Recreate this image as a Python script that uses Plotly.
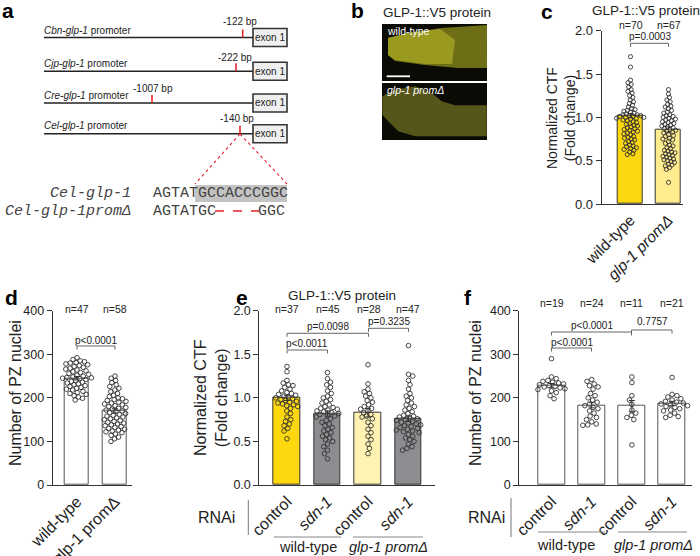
import math
import plotly.graph_objects as go

# ---------------- data ----------------
c_groups = ["wild-type", "<i>glp-1 promΔ</i>"]
c_means = [1.02, 0.86]
c_sem = [0.025, 0.03]
c_n = ["n=70", "n=67"]
c_wt = [1.70, 1.58, 1.43, 1.40, 1.38, 1.35, 1.32, 1.30, 1.28, 1.25, 1.23, 1.20, 1.18, 1.16, 1.14,
        1.12, 1.10, 1.09, 1.08, 1.07, 1.06, 1.05, 1.04, 1.03, 1.03, 1.02, 1.02, 1.01, 1.01, 1.00,
        1.00, 0.99, 0.99, 0.98, 0.97, 0.96, 0.95, 0.94, 0.93, 0.92, 0.91, 0.90, 0.89, 0.88, 0.87,
        0.86, 0.85, 0.84, 0.83, 0.82, 0.81, 0.80, 0.78, 0.77, 0.76, 0.75, 0.74, 0.72, 0.71, 0.70,
        0.68, 0.67, 0.66, 0.65, 0.64, 0.63, 0.62, 0.60, 0.58, 0.57]
c_prom = [1.32, 1.27, 1.23, 1.20, 1.18, 1.15, 1.13, 1.12, 1.10, 1.08, 1.06, 1.05, 1.03, 1.02, 1.01,
          1.00, 0.99, 0.98, 0.97, 0.96, 0.95, 0.94, 0.93, 0.92, 0.91, 0.90, 0.89, 0.88, 0.87, 0.86,
          0.85, 0.84, 0.83, 0.82, 0.80, 0.79, 0.78, 0.76, 0.75, 0.74, 0.72, 0.70, 0.68, 0.67, 0.65,
          0.64, 0.62, 0.61, 0.60, 0.59, 0.58, 0.57, 0.56, 0.55, 0.54, 0.53, 0.52, 0.51, 0.50, 0.49,
          0.48, 0.46, 0.45, 0.44, 0.42, 0.40, 0.25]

d_groups = ["wild-type", "glp-1 promΔ"]
d_means = [245, 170]
d_sem = [4, 5]
d_n = ["n=47", "n=58"]
d_wt = [292, 288, 285, 283, 281, 280, 278, 276, 274, 272, 270, 268, 266, 264, 262, 260, 258, 256,
        254, 252, 250, 248, 247, 246, 245, 244, 242, 240, 238, 236, 234, 232, 230, 228, 226, 224,
        222, 220, 218, 215, 212, 210, 208, 205, 202, 199, 195]
d_prom = [250, 245, 240, 235, 230, 226, 222, 218, 214, 210, 206, 203, 200, 198, 196, 194, 192, 190,
          188, 186, 184, 182, 180, 178, 176, 174, 172, 170, 168, 166, 164, 162, 160, 158, 156, 154,
          152, 150, 148, 146, 144, 142, 140, 138, 136, 134, 132, 130, 128, 126, 124, 122, 120, 117,
          114, 110, 106, 100]

rnai_groups = ["control", "<i>sdn-1</i>", "control", "<i>sdn-1</i>"]
genotypes = ["wild-type", "<i>glp-1 promΔ</i>"]

e_means = [1.00, 0.82, 0.83, 0.76]
e_sem = [0.03, 0.03, 0.05, 0.03]
e_n = ["n=37", "n=45", "n=28", "n=47"]
e_ctrl_wt = [1.36, 1.30, 1.20, 1.17, 1.15, 1.14, 1.12, 1.10, 1.08, 1.06, 1.05, 1.04, 1.03, 1.02,
             1.01, 1.00, 0.99, 0.98, 0.97, 0.96, 0.95, 0.94, 0.93, 0.92, 0.91, 0.90, 0.88, 0.85,
             0.82, 0.78, 0.75, 0.73, 0.70, 0.68, 0.65, 0.62, 0.53]
e_sdn_wt = [1.29, 1.22, 1.18, 1.15, 1.12, 1.08, 1.05, 1.02, 1.00, 0.98, 0.96, 0.94, 0.92, 0.90,
            0.89, 0.88, 0.87, 0.86, 0.85, 0.84, 0.83, 0.82, 0.81, 0.80, 0.79, 0.78, 0.76, 0.74,
            0.72, 0.70, 0.68, 0.66, 0.64, 0.62, 0.60, 0.58, 0.56, 0.54, 0.52, 0.50, 0.47, 0.44,
            0.40, 0.36, 0.30]
e_ctrl_prom = [1.38, 1.16, 1.10, 1.07, 1.05, 1.02, 1.00, 0.97, 0.95, 0.92, 0.90, 0.88, 0.87, 0.85,
               0.83, 0.81, 0.79, 0.78, 0.76, 0.72, 0.68, 0.64, 0.60, 0.56, 0.52, 0.47, 0.42, 0.36]
e_sdn_prom = [1.60, 1.27, 1.25, 1.20, 1.15, 1.10, 1.05, 1.02, 1.00, 0.97, 0.94, 0.92, 0.90, 0.88,
              0.86, 0.84, 0.82, 0.80, 0.79, 0.78, 0.77, 0.76, 0.75, 0.74, 0.73, 0.72, 0.71, 0.70,
              0.69, 0.68, 0.67, 0.66, 0.65, 0.64, 0.63, 0.62, 0.61, 0.60, 0.58, 0.56, 0.54, 0.52,
              0.50, 0.47, 0.44, 0.42, 0.40]

f_means = [228, 183, 181, 187]
f_sem = [5, 6, 13, 5]
f_n = ["n=19", "n=24", "n=11", "n=21"]
f_ctrl_wt = [290, 248, 244, 240, 238, 236, 234, 232, 230, 228, 226, 225, 223, 221, 219, 216, 212,
             205, 198]
f_sdn_wt = [242, 238, 232, 228, 225, 220, 210, 205, 200, 195, 190, 186, 182, 178, 175, 170, 165,
            158, 155, 150, 145, 140, 138, 137]
f_ctrl_prom = [248, 235, 205, 195, 185, 172, 165, 160, 155, 150, 92]
f_sdn_prom = [247, 208, 205, 202, 198, 195, 192, 190, 188, 186, 184, 182, 180, 178, 175, 172, 170,
              165, 160, 157, 155]

ctf_ticks = [0, 0.5, 1.0, 1.5, 2.0]
ctf_ticktext = ["0.0", "0.5", "1.0", "1.5", "2.0"]
pz_ticks = [0, 100, 200, 300, 400]

promoters = ["<i>Cbn-glp-1</i> promoter", "<i>Cjp-glp-1</i> promoter",
             "<i>Cre-glp-1</i> promoter", "<i>Cel-glp-1</i> promoter"]
deletion_sites = ["-122 bp", "-222 bp", "-1007 bp", "-140 bp"]
seq_names = ["<i>Cel-glp-1</i>", "<i>Cel-glp-1promΔ</i>"]
seq_wt = "AGTATGCCACCCGGC"
seq_del_left = "AGTATGC"
seq_del_right = "GGC"

# ---------------- helpers ----------------
W, H = 700, 556
SANS = "Liberation Sans, Arial, sans-serif"
MONO = "Liberation Mono, Courier New, monospace"
DARK = "#222222"


def X(px):
    return px / W


def Y(py):
    return 1 - py / H


shapes = []
annotations = []


def line(x0, y0, x1, y1, color="#333", width=1.0, dash="solid"):
    shapes.append(dict(type="line", xref="paper", yref="paper", x0=X(x0), y0=Y(y0),
                       x1=X(x1), y1=Y(y1), line=dict(color=color, width=width, dash=dash)))


def rect(x0, y0, x1, y1, fill, lc=None, lw=0):
    shapes.append(dict(type="rect", xref="paper", yref="paper", x0=X(x0), y0=Y(y0),
                       x1=X(x1), y1=Y(y1), fillcolor=fill,
                       line=dict(color=lc or fill, width=lw)))


def poly(pts, fill):
    p = "M " + " L ".join(f"{X(a):.5f},{Y(b):.5f}" for a, b in pts) + " Z"
    shapes.append(dict(type="path", xref="paper", yref="paper", path=p, fillcolor=fill,
                       line=dict(width=0)))


def text(x, y, s, size, color=DARK, xa="center", ya="middle", angle=0, family=SANS):
    annotations.append(dict(x=X(x), y=Y(y), xref="paper", yref="paper", text=s,
                            showarrow=False, xanchor=xa, yanchor=ya, textangle=angle,
                            font=dict(size=size, color=color, family=family)))


def bracket(x0, x1, y, color="#666"):
    line(x0, y, x1, y, color, 1)
    line(x0, y, x0, y + 3.5, color, 1)
    line(x1, y, x1, y + 3.5, color, 1)


def swarm(vals, ypx, D):
    placed = []
    xs = [0.0] * len(vals)
    order = sorted(range(len(vals)), key=lambda i: -vals[i])
    for k, i in enumerate(order):
        y = vals[i] * ypx
        near = [(a, b) for a, b in placed if abs(b - y) < D]
        cands = [0.0]
        for a, b in near:
            dx = math.sqrt(max(D * D - (b - y) ** 2, 0))
            cands += [a + dx, a - dx]
        cands.sort(key=lambda c: (round(abs(c), 3), c if k % 2 else -c))
        for c in cands:
            if all((c - a) ** 2 + (y - b) ** 2 >= D * D - 1e-6 for a, b in near):
                xs[i] = c
                break
        placed.append((xs[i], y))
    return xs


fig = go.Figure()

panels = {
    "c": dict(ax="", x0=601.7, x1=683, top=30.7, bot=204, c0=630.5, sp=38, ymax=2.0),
    "d": dict(ax="2", x0=52.7, x1=132, top=310.7, bot=485, c0=77, sp=38, ymax=400),
    "e": dict(ax="3", x0=259.3, x1=435, top=310.7, bot=485, c0=287, sp=40.5, ymax=2.0),
    "f": dict(ax="4", x0=519.3, x1=692, top=310.7, bot=485, c0=551.5, sp=40.2, ymax=400),
}


def add_panel(key, means, sems, colors, groups_pts, bar_w_px, outline, D, msize):
    p = panels[key]
    xa = "x" + p["ax"]
    ya = "y" + p["ax"]
    idx = list(range(len(means)))
    fig.add_trace(go.Bar(x=idx, y=means, width=bar_w_px / p["sp"], xaxis=xa, yaxis=ya,
                         marker=dict(color=colors, line=dict(color=outline, width=1)),
                         error_y=dict(type="data", array=sems, color="#333", thickness=1, width=3),
                         showlegend=False, hoverinfo="skip"))
    ypx = (p["bot"] - p["top"]) / p["ymax"]
    for i, vals in enumerate(groups_pts):
        offs = swarm(vals, ypx, D)
        fig.add_trace(go.Scatter(x=[i + o / p["sp"] for o in offs], y=vals, mode="markers",
                                 xaxis=xa, yaxis=ya, showlegend=False, hoverinfo="skip",
                                 marker=dict(symbol="circle-open", size=msize, color="#333",
                                             line=dict(width=0.9))))


add_panel("c", c_means, c_sem, ["#FDD80E", "#FFEC8F"], [c_wt, c_prom], 25, "#333", 3.6, 4.2)
add_panel("d", d_means, d_sem, ["#ffffff", "#ffffff"], [d_wt, d_prom], 24, "#555", 4.4, 4.6)
add_panel("e", e_means, e_sem, ["#FDD80E", "#8D8D91", "#FFF3B4", "#8D8D91"],
          [e_ctrl_wt, e_sdn_wt, e_ctrl_prom, e_sdn_prom], 26.5, "#333", 4.6, 4.6)
add_panel("f", f_means, f_sem, ["#ffffff"] * 4,
          [f_ctrl_wt, f_sdn_wt, f_ctrl_prom, f_sdn_prom], 27, "#555", 5.0, 4.6)

layout_axes = {}
ticklabels = {"c": c_groups, "d": d_groups, "e": rnai_groups, "f": rnai_groups}
for key, p in panels.items():
    n = len(ticklabels[key])
    xr = [(p["x0"] - p["c0"]) / p["sp"], (p["x1"] - p["c0"]) / p["sp"]]
    xname = "xaxis" + p["ax"]
    yname = "yaxis" + p["ax"]
    big = key in ("d", "e", "f")
    layout_axes[xname] = dict(domain=[X(p["x0"]), X(p["x1"])], range=xr, anchor="y" + p["ax"],
                              tickvals=list(range(n)), ticktext=ticklabels[key], tickangle=-45,
                              showline=True, linecolor="#333", linewidth=1, ticks="",
                              showgrid=False, zeroline=False, fixedrange=True, automargin=False,
                              tickfont=dict(size=16 if big else 15.5, color=DARK, family=SANS))
    if p["ymax"] == 2.0:
        tv, tt = ctf_ticks, ctf_ticktext
    else:
        tv, tt = pz_ticks, [str(v) for v in pz_ticks]
    layout_axes[yname] = dict(domain=[Y(p["bot"]), Y(p["top"])], range=[0, p["ymax"]],
                              anchor="x" + p["ax"], tickvals=tv, ticktext=tt,
                              showline=True, linecolor="#333", linewidth=1, ticks="outside",
                              ticklen=5, tickwidth=1, tickcolor="#333", showgrid=False,
                              zeroline=False, fixedrange=True, automargin=False,
                              tickfont=dict(size=13 if key == "c" else 12.5, color=DARK, family=SANS))

# ---------------- panel a ----------------
text(0, 11, "<b>a</b>", 21, "#000", xa="left")
row_line_y = [37.5, 71.3, 103, 133.8]
row_lab_y = [30.7, 63.3, 95.7, 125.7]
tick_x = [242.7, 236, 152, 240]
site_lab = [(240, 22), (235, 57), (153, 88), (237, 118)]
for i in range(4):
    ly = row_line_y[i]
    line(44, ly, 253, ly, "#222", 1.6)
    rect(253, ly - 9, 287, ly + 9, "#efefef", "#333", 1.6)
    text(270, ly, "exon 1", 10, DARK)
    text(42, row_lab_y[i], promoters[i], 10, DARK, xa="left")
    line(tick_x[i], ly - 8, tick_x[i], ly, "#E8202A", 1.6)
    text(site_lab[i][0], site_lab[i][1], deletion_sites[i], 10, DARK)

line(240, 134, 195, 184, "#E8202A", 1.1, "dot")
line(240, 134, 287, 184, "#E8202A", 1.1, "dot")
rect(195, 185, 287, 202, "#c3c3c3")
text(133, 193.5, seq_names[0], 15, "#444", xa="right", family=MONO)
text(133, 211.5, seq_names[1], 15, "#444", xa="right", family=MONO)
text(151, 193.5, seq_wt, 15, "#444", xa="left", family=MONO)
text(151, 211.5, seq_del_left, 15, "#444", xa="left", family=MONO)
text(287, 211.5, seq_del_right, 15, "#444", xa="right", family=MONO)
line(215, 211, 259, 211, "#E8202A", 1.5, "dash")

# ---------------- panel b ----------------
text(349, 11, "<b>b</b>", 21, "#000", xa="left")
text(381, 13, "GLP-1::V5 protein", 13.5, DARK, xa="left")
rect(382, 24, 487, 81, "#0b0b05")
poly([(388, 38), (408, 33), (442, 28), (487, 25), (487, 68), (458, 68), (425, 65), (395, 61),
      (388, 55)], "#6e6e16")
poly([(388, 38), (408, 33), (440, 29), (455, 40), (452, 64), (425, 64), (395, 60), (388, 55)],
     "#9a9a20")
line(386.7, 76.3, 410, 76.3, "#ffffff", 1.8)
text(385, 31, "wild-type", 10.5, "#ffffff", xa="left")
rect(382, 83, 487, 140, "#0b0b05")
poly([(382.3, 96.3), (395, 89.7), (415, 86.3), (431.7, 93), (441.7, 101.3), (455, 105.3),
      (486.7, 105.3), (486.7, 136.3), (415, 136.3), (398.3, 131.3), (388.3, 121.3),
      (382.3, 114.7)], "#56561a")
text(385, 89.5, "<i>glp-1 promΔ</i>", 10.5, "#ffffff", xa="left")

# ---------------- panel c ----------------
text(539, 12, "<b>c</b>", 21, "#000", xa="left")
text(646, 10, "GLP-1::V5 protein", 13.5, DARK)
text(561, 118, "Normalized CTF<br>(Fold change)", 14, DARK, angle=-90)
text(630.5, 25, c_n[0], 10.5)
text(668.5, 25, c_n[1], 10.5)
bracket(630.5, 668.5, 43.3)
text(649.5, 36, "p=0.0003", 10)

# ---------------- panel d ----------------
text(3, 297, "<b>d</b>", 21, "#000", xa="left")
text(15, 393, "Number of PZ nuclei", 16, DARK, angle=-90)
text(77, 309, d_n[0], 10.5)
text(115, 309, d_n[1], 10.5)
bracket(77, 115, 346)
text(96, 340, "p<0.0001", 10)

# ---------------- panel e ----------------
text(234, 297, "<b>e</b>", 21, "#000", xa="left")
text(342, 295, "GLP-1::V5 protein", 13.5, DARK)
text(211, 398, "Normalized CTF<br>(Fold change)", 16, DARK, angle=-90)
e_cx = [287, 327.5, 368.5, 408.5]
for cx, s in zip(e_cx, e_n):
    text(cx, 309, s, 10.5)
bracket(287, 368.5, 333.3)
text(328, 326.5, "p=0.0098", 10)
bracket(368.5, 408.5, 328.3)
text(388.5, 321, "p=0.3235", 10)
bracket(287, 327.5, 350)
text(307, 343, "p<0.0011", 10)
text(216, 517, "RNAi", 16)
line(248.3, 500, 248.3, 535, "#777", 1)
line(274, 537, 341, 537, "#888", 1)
line(353, 537, 423, 537, "#888", 1)
text(308, 546.5, genotypes[0], 14.5)
text(388, 546.5, genotypes[1], 14.5)

# ---------------- panel f ----------------
text(462, 297, "<b>f</b>", 21, "#000", xa="left")
text(475, 393, "Number of PZ nuclei", 16, DARK, angle=-90)
f_cx = [551.5, 591.5, 631.5, 672]
for cx, s in zip(f_cx, f_n):
    text(cx, 303, s, 10.5)
bracket(551.5, 631.5, 332)
text(592, 325, "p<0.0001", 10)
bracket(551.5, 591.5, 348)
text(571.5, 342, "p<0.0001", 10)
bracket(631.5, 672, 330)
text(652, 321, "0.7757", 10)
text(486, 517, "RNAi", 16)
line(511, 498, 511, 537, "#777", 1)
line(538, 532, 605, 532, "#888", 1)
line(618, 532, 687, 532, "#888", 1)
text(566, 544.5, genotypes[0], 14.5)
text(653, 544.5, genotypes[1], 14.5)

fig.update_layout(width=W, height=H, autosize=False, margin=dict(l=0, r=0, t=0, b=0, pad=0),
                  paper_bgcolor="white", plot_bgcolor="white", bargap=0,
                  shapes=shapes, annotations=annotations, font=dict(family=SANS, color=DARK),
                  **layout_axes)
fig.write_html("out.html", config={"displayModeBar": False},
               post_script="document.body.style.margin='0';document.body.style.padding='0';")
